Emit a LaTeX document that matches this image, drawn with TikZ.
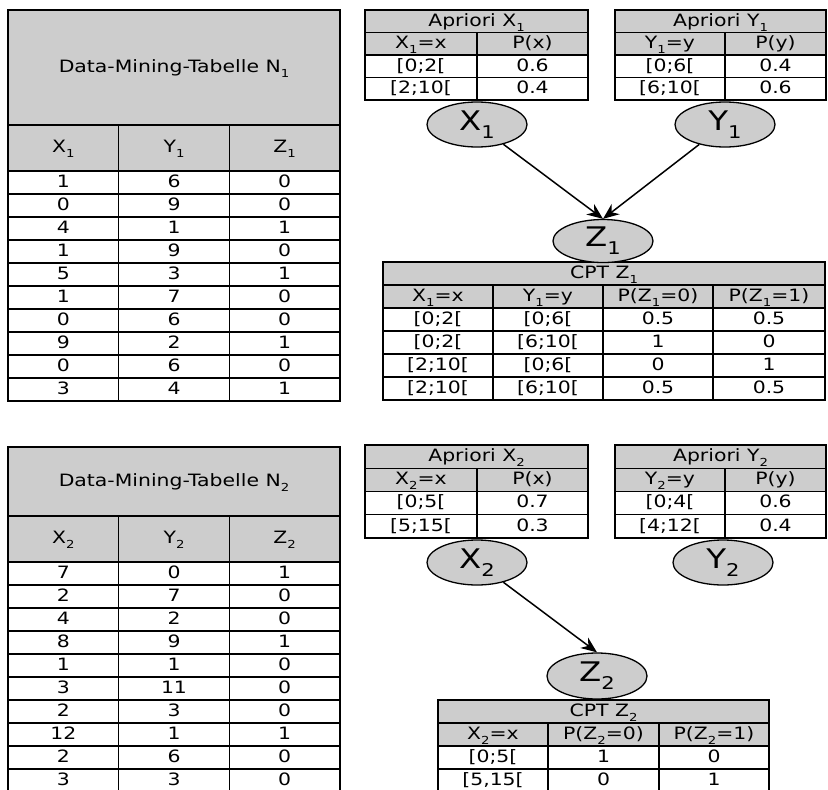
\documentclass[tikz,border=0pt]{standalone}
\usepackage{graphicx}
\usepackage{fontspec}
\setmainfont{DejaVu Sans}[FakeStretch=1.2]
\usetikzlibrary{positioning, arrows.meta, shapes.geometric}
\definecolor{cellgray}{RGB}{205,205,205}
\newcommand{\ix}[1]{\raisebox{-0.3em}{\scalebox{0.65}{#1}}}

\begin{document}
\begin{tikzpicture}[x=1pt, y=-1pt,
        cell/.style={draw, rectangle, fill=white, inner sep=0pt, minimum height=23pt, text height=12.5pt, text depth=3pt, line width=1.3pt, font=\fontsize{17}{17}\selectfont},
        headcell/.style={cell, fill=cellgray},
        var/.style={draw, ellipse, fill=cellgray, minimum width=100pt, minimum height=45pt, inner sep=0pt, line width=1.3pt, font=\fontsize{27}{27}\selectfont},
        arrow/.style={-{Stealth[length=16pt, width=13pt]}, line width=1.5pt}
    ]
    \useasboundingbox (0,0) rectangle (828,790);

    % --- Data-Mining-Tabelle N1 ---
    \node[headcell, minimum width=332pt, minimum height=115pt] (n1title) at (174,67.5) {Data-Mining-Tabelle N\ix{1}};
    \foreach \x/\v [count=\c] in {63.3/X, 174/Y, 284.7/Z}
        \node[headcell, minimum width=110.7pt, minimum height=46pt] (n1head-\c) at (\x,148) {\v\ix{1}};
    \foreach \a/\b/\z [count=\r] in {1/6/0, 0/9/0, 4/1/1, 1/9/0, 5/3/1, 1/7/0, 0/6/0, 9/2/1, 0/6/0, 3/4/1} {
        \node[cell, minimum width=110.7pt] (n1-\r-1) at (63.3,159.5+23*\r) {\a};
        \node[cell, minimum width=110.7pt] (n1-\r-2) at (174,159.5+23*\r) {\b};
        \node[cell, minimum width=110.7pt] (n1-\r-3) at (284.7,159.5+23*\r) {\z};
    }

    % --- Apriori X1 / Y1 ---
    \node[headcell, minimum width=223pt, minimum height=22.5pt] (ax1title) at (476.5,21.25) {Apriori X\ix{1}};
    \node[headcell, minimum width=112pt, minimum height=22.5pt] (ax1head-1) at (421,43.75) {X\ix{1}=x};
    \node[headcell, minimum width=111pt, minimum height=22.5pt] (ax1head-2) at (532.5,43.75) {P(x)};
    \node[cell, minimum width=112pt, minimum height=22.5pt] (ax1-1-1) at (421,66.25) {[0;2[};
    \node[cell, minimum width=111pt, minimum height=22.5pt] (ax1-1-2) at (532.5,66.25) {0.6};
    \node[cell, minimum width=112pt, minimum height=22.5pt] (ax1-2-1) at (421,88.75) {[2;10[};
    \node[cell, minimum width=111pt, minimum height=22.5pt] (ax1-2-2) at (532.5,88.75) {0.4};

    \node[headcell, minimum width=211pt, minimum height=22.5pt] (ay1title) at (720.5,21.25) {Apriori Y\ix{1}};
    \node[headcell, minimum width=110pt, minimum height=22.5pt] (ay1head-1) at (670,43.75) {Y\ix{1}=y};
    \node[headcell, minimum width=101pt, minimum height=22.5pt] (ay1head-2) at (775.5,43.75) {P(y)};
    \node[cell, minimum width=110pt, minimum height=22.5pt] (ay1-1-1) at (670,66.25) {[0;6[};
    \node[cell, minimum width=101pt, minimum height=22.5pt] (ay1-1-2) at (775.5,66.25) {0.4};
    \node[cell, minimum width=110pt, minimum height=22.5pt] (ay1-2-1) at (670,88.75) {[6;10[};
    \node[cell, minimum width=101pt, minimum height=22.5pt] (ay1-2-2) at (775.5,88.75) {0.6};

    % --- CPT Z1 ---
    \node[headcell, minimum width=442pt] (cz1title) at (604,273.5) {CPT Z\ix{1}};
    \foreach \x/\w/\t [count=\c] in {438/110/X\ix{1}=x, 548/110/Y\ix{1}=y, 658/110/P(Z\ix{1}=0), 769/112/P(Z\ix{1}=1)}
        \node[headcell, minimum width=\w pt] (cz1head-\c) at (\x,296.5) {\t};
    \foreach \a/\b/\p/\q [count=\r] in {[0;2[/[0;6[/0.5/0.5, [0;2[/[6;10[/1/0, [2;10[/[0;6[/0/1, [2;10[/[6;10[/0.5/0.5} {
        \node[cell, minimum width=110pt] (cz1-\r-1) at (438,296.5+23*\r) {\a};
        \node[cell, minimum width=110pt] (cz1-\r-2) at (548,296.5+23*\r) {\b};
        \node[cell, minimum width=110pt] (cz1-\r-3) at (658,296.5+23*\r) {\p};
        \node[cell, minimum width=112pt] (cz1-\r-4) at (769,296.5+23*\r) {\q};
    }

    % --- Data-Mining-Tabelle N2 ---
    \node[headcell, minimum width=332pt, minimum height=69pt] (n2title) at (174,481.5) {Data-Mining-Tabelle N\ix{2}};
    \foreach \x/\v [count=\c] in {63.3/X, 174/Y, 284.7/Z}
        \node[headcell, minimum width=110.7pt, minimum height=46pt] (n2head-\c) at (\x,539) {\v\ix{2}};
    \foreach \a/\b/\z [count=\r] in {7/0/1, 2/7/0, 4/2/0, 8/9/1, 1/1/0, 3/11/0, 2/3/0, 12/1/1, 2/6/0, 3/3/0} {
        \node[cell, minimum width=110.7pt] (n2-\r-1) at (63.3,550.5+23*\r) {\a};
        \node[cell, minimum width=110.7pt] (n2-\r-2) at (174,550.5+23*\r) {\b};
        \node[cell, minimum width=110.7pt] (n2-\r-3) at (284.7,550.5+23*\r) {\z};
    }

    % --- Apriori X2 / Y2 ---
    \node[headcell, minimum width=223pt, minimum height=23.25pt] (ax2title) at (476.5,456.6) {Apriori X\ix{2}};
    \node[headcell, minimum width=112pt, minimum height=23.25pt] (ax2head-1) at (421,479.9) {X\ix{2}=x};
    \node[headcell, minimum width=111pt, minimum height=23.25pt] (ax2head-2) at (532.5,479.9) {P(x)};
    \node[cell, minimum width=112pt, minimum height=23.25pt] (ax2-1-1) at (421,503.1) {[0;5[};
    \node[cell, minimum width=111pt, minimum height=23.25pt] (ax2-1-2) at (532.5,503.1) {0.7};
    \node[cell, minimum width=112pt, minimum height=23.25pt] (ax2-2-1) at (421,526.4) {[5;15[};
    \node[cell, minimum width=111pt, minimum height=23.25pt] (ax2-2-2) at (532.5,526.4) {0.3};

    \node[headcell, minimum width=211pt, minimum height=23.25pt] (ay2title) at (720.5,456.6) {Apriori Y\ix{2}};
    \node[headcell, minimum width=110pt, minimum height=23.25pt] (ay2head-1) at (670,479.9) {Y\ix{2}=y};
    \node[headcell, minimum width=101pt, minimum height=23.25pt] (ay2head-2) at (775.5,479.9) {P(y)};
    \node[cell, minimum width=110pt, minimum height=23.25pt] (ay2-1-1) at (670,503.1) {[0;4[};
    \node[cell, minimum width=101pt, minimum height=23.25pt] (ay2-1-2) at (775.5,503.1) {0.6};
    \node[cell, minimum width=110pt, minimum height=23.25pt] (ay2-2-1) at (670,526.4) {[4;12[};
    \node[cell, minimum width=101pt, minimum height=23.25pt] (ay2-2-2) at (775.5,526.4) {0.4};

    % --- CPT Z2 ---
    \node[headcell, minimum width=331pt] (cz2title) at (603.5,711.5) {CPT Z\ix{2}};
    \foreach \x/\w/\t [count=\c] in {493/110/X\ix{2}=x, 603.5/111/P(Z\ix{2}=0), 714/110/P(Z\ix{2}=1)}
        \node[headcell, minimum width=\w pt] (cz2head-\c) at (\x,734.5) {\t};
    \foreach \a/\p/\q [count=\r] in {{[0;5[}/1/0, {[5,15[}/0/1} {
        \node[cell, minimum width=110pt] (cz2-\r-1) at (493,734.5+23*\r) {\a};
        \node[cell, minimum width=111pt] (cz2-\r-2) at (603.5,734.5+23*\r) {\p};
        \node[cell, minimum width=110pt] (cz2-\r-3) at (714,734.5+23*\r) {\q};
    }

    % --- Variables ---
    \node[var] (X1) at (477,124.5) {X\ix{1}};
    \node[var] (Y1) at (725,124.5) {Y\ix{1}};
    \node[var, minimum height=43pt] (Z1) at (603,241) {Z\ix{1}};
    \node[var] (X2) at (477,562.5) {X\ix{2}};
    \node[var] (Y2) at (723,562.5) {Y\ix{2}};
    \node[var, minimum height=46pt] (Z2) at (597,676) {Z\ix{2}};

    % --- Arrows ---
    \draw[arrow] (X1) -- (Z1.north);
    \draw[arrow] (Y1) -- (Z1.north);
    \draw[arrow] (X2) -- (Z2.north);

\end{tikzpicture}
\end{document}
